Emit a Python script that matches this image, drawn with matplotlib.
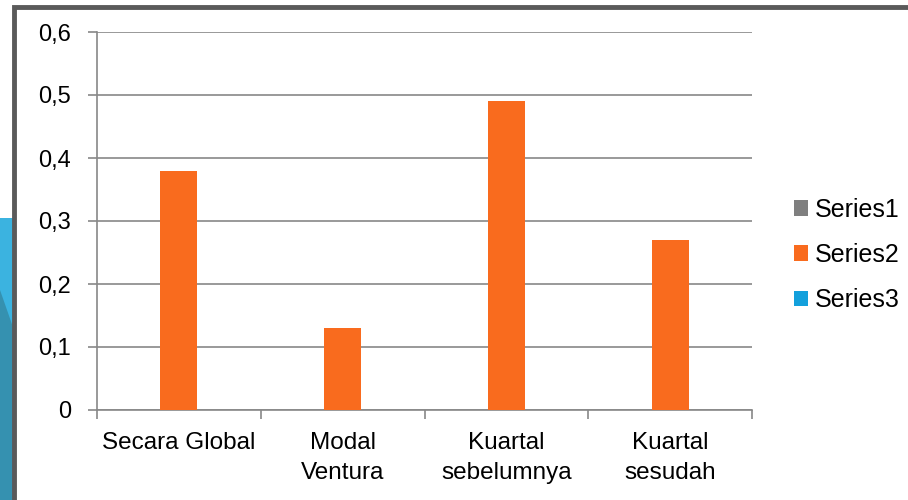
import matplotlib
matplotlib.use('Agg')
import matplotlib.pyplot as plt
import numpy as np
from matplotlib.patches import Rectangle, Polygon

categories = ['Secara Global', 'Modal\nVentura', 'Kuartal\nsebelumnya', 'Kuartal\nsesudah']
series1 = [0, 0, 0, 0]
series2 = [0.38, 0.13, 0.49, 0.27]
series3 = [0, 0, 0, 0]
y_ticks = [0, 0.1, 0.2, 0.3, 0.4, 0.5, 0.6]
y_labels = ['0', '0,1', '0,2', '0,3', '0,4', '0,5', '0,6']

colors = ['#7F7F7F', '#F96B1E', '#13A0DC']
grid_col = '#888888'
font = 'Liberation Sans'

fig = plt.figure(figsize=(9.08, 5), dpi=100)
fig.patch.set_facecolor('white')

# decorative slide background on the left
fig.patches.append(Rectangle((0, 0), 14 / 908, 1 - 218 / 500, transform=fig.transFigure,
                             facecolor='#3BB3E0', edgecolor='none', zorder=0))
fig.patches.append(Polygon([(0, 1 - 290 / 500), (14 / 908, 1 - 330 / 500), (14 / 908, 0), (0, 0)],
                           closed=True, transform=fig.transFigure,
                           facecolor='#3591B0', edgecolor='none', zorder=0))
# chart frame
fig.patches.append(Rectangle((14 / 908, -0.1), 1.0, 1.1 - 7 / 500, transform=fig.transFigure,
                             facecolor='white', edgecolor='#5A5A5A', linewidth=3.5, zorder=1))

ax = fig.add_axes([97 / 908, 1 - 410 / 500, (752 - 97) / 908, (410 - 32) / 500])
ax.set_facecolor('none')
ax.set_zorder(2)

x = np.arange(len(categories))
w = 0.225
ax.bar(x - w, series1, w, color=colors[0], label='Series1', zorder=3)
ax.bar(x, series2, w, color=colors[1], label='Series2', zorder=3)
ax.bar(x + w, series3, w, color=colors[2], label='Series3', zorder=3)

ax.set_xlim(-0.5, len(categories) - 0.5)
ax.set_ylim(0, 0.6)
ax.set_yticks(y_ticks)
ax.set_yticklabels(y_labels, fontfamily=font, fontsize=17)
ax.yaxis.grid(True, color=grid_col, linewidth=1.2, zorder=0)
ax.set_axisbelow(True)

ax.set_xticks(np.arange(len(categories) + 1) - 0.5)
ax.set_xticklabels([])
ax.set_xticks(x, minor=True)
ax.set_xticklabels(categories, minor=True, fontfamily=font, fontsize=17.5,
                   linespacing=1.45, va='top')
ax.tick_params(axis='x', which='minor', length=0, pad=16)
ax.tick_params(axis='x', which='major', length=6.5, width=1.2, color=grid_col, direction='out')
ax.tick_params(axis='y', length=6.5, width=1.2, color=grid_col, direction='out', pad=12)

for s in ['top', 'right']:
    ax.spines[s].set_visible(False)
for s in ['left', 'bottom']:
    ax.spines[s].set_color(grid_col)
    ax.spines[s].set_linewidth(1.2)

leg = ax.legend(loc='center left', bbox_to_anchor=(1.064, 0.41), frameon=False,
                prop={'family': font, 'size': 18},
                handlelength=0.56, handleheight=0.6, handletextpad=0.28, labelspacing=0.85,
                borderaxespad=0, borderpad=0)

plt.savefig('out.png', dpi=100, facecolor='white')
